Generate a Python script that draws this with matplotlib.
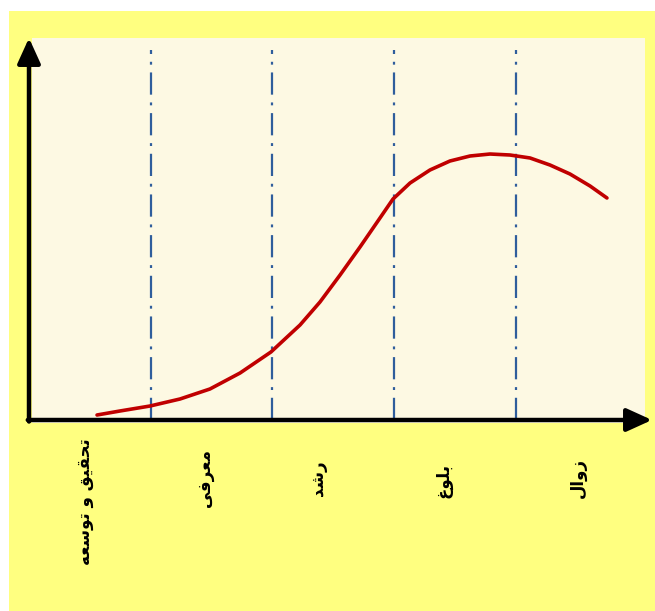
import matplotlib
matplotlib.use("Agg")
import matplotlib.pyplot as plt
from matplotlib.patches import Rectangle

# ---- data ----
stage_labels = ["تحقیق و توسعه", "معرفی", "رشد", "بلوغ", "زوال"]
stage_boundaries = [1.0, 2.0, 3.0, 4.0]
curve_x = [0.559, 0.748, 0.994, 1.241, 1.487, 1.734, 1.988, 2.227, 2.391, 2.556, 2.720,
           2.884, 2.991, 3.131, 3.295, 3.459, 3.624, 3.788, 3.952, 4.117, 4.281, 4.445,
           4.610, 4.749]
curve_y = [1.31, 2.36, 3.66, 5.50, 8.12, 12.30, 17.80, 24.87, 30.89, 37.96, 45.29,
           52.88, 57.85, 62.04, 65.45, 67.80, 69.11, 69.63, 69.37, 68.59, 66.75, 64.40,
           61.26, 58.12]

W, H = 655, 611

# minimal Arabic/Persian shaping for display (letters: iso, fin, ini, med)
FORMS = {
    'ا': ('\uFE8D', '\uFE8E', None, None),
    'ب': ('\uFE8F', '\uFE90', '\uFE91', '\uFE92'),
    'ت': ('\uFE95', '\uFE96', '\uFE97', '\uFE98'),
    'ح': ('\uFEA1', '\uFEA2', '\uFEA3', '\uFEA4'),
    'د': ('\uFEA9', '\uFEAA', None, None),
    'ر': ('\uFEAD', '\uFEAE', None, None),
    'ز': ('\uFEAF', '\uFEB0', None, None),
    'س': ('\uFEB1', '\uFEB2', '\uFEB3', '\uFEB4'),
    'ش': ('\uFEB5', '\uFEB6', '\uFEB7', '\uFEB8'),
    'ع': ('\uFEC9', '\uFECA', '\uFECB', '\uFECC'),
    'غ': ('\uFECD', '\uFECE', '\uFECF', '\uFED0'),
    'ف': ('\uFED1', '\uFED2', '\uFED3', '\uFED4'),
    'ق': ('\uFED5', '\uFED6', '\uFED7', '\uFED8'),
    'ل': ('\uFEDD', '\uFEDE', '\uFEDF', '\uFEE0'),
    'م': ('\uFEE1', '\uFEE2', '\uFEE3', '\uFEE4'),
    'ه': ('\uFEE9', '\uFEEA', '\uFEEB', '\uFEEC'),
    'و': ('\uFEED', '\uFEEE', None, None),
    'ی': ('\uFBFC', '\uFBFD', '\uFBFE', '\uFBFF'),
}


def shape(text):
    out = []
    for i, c in enumerate(text):
        if c not in FORMS:
            out.append(c)
            continue
        prev = text[i - 1] if i > 0 else None
        nxt = text[i + 1] if i + 1 < len(text) else None
        jp = prev in FORMS and FORMS[prev][2] is not None
        jn = nxt in FORMS and FORMS[c][2] is not None
        iso, fin, ini, med = FORMS[c]
        if jp and jn:
            out.append(med)
        elif jp:
            out.append(fin)
        elif jn:
            out.append(ini)
        else:
            out.append(iso)
    return ''.join(reversed(out))


fig = plt.figure(figsize=(W / 100, H / 100), dpi=100)
fig.patch.set_facecolor('white')


def fx(px):
    return px / W


def fy(py):
    return 1 - py / H


# yellow background
fig.patches.append(Rectangle((fx(9), 0), 1 - fx(9), fy(11), transform=fig.transFigure,
                             facecolor='#FFFF80', edgecolor='none', zorder=0))
# cream panel
fig.patches.append(Rectangle((fx(32), fy(423)), fx(645) - fx(32), fy(38) - fy(423),
                             transform=fig.transFigure, facecolor='#FDF9E3',
                             edgecolor='none', zorder=0.5))

x0, x1 = 29, 652
y0, y1 = 420, 38
ax = fig.add_axes([fx(x0), fy(y0), fx(x1) - fx(x0), fy(y1) - fy(y0)])
ax.set_zorder(5)
ax.set_facecolor('none')
ax.set_xlim(0, (x1 - x0) / 121.7)
ax.set_ylim(0, 100)
ax.axis('off')

for b in stage_boundaries:
    ax.plot([b, b], [0, 96.9], color='#2F5E9C', lw=1.6,
            linestyle=(0, (10.0, 3.5, 1.3, 3.5)), zorder=2)

ax.plot(curve_x, curve_y, color='#C00000', lw=2.6, solid_capstyle='round',
        solid_joinstyle='round', zorder=3)

xmax = ax.get_xlim()[1]
arrow_kw = dict(arrowstyle='-|>,head_length=1.1,head_width=0.5', lw=3.2, color='black',
                shrinkA=0, shrinkB=0, mutation_scale=14)
ax.annotate('', xy=(0, 100), xytext=(0, -0.4), arrowprops=arrow_kw, annotation_clip=False, zorder=4)
ax.annotate('', xy=(xmax, 0), xytext=(-0.01, 0), arrowprops=arrow_kw, annotation_clip=False, zorder=4)

label_px = [(85, 502), (205, 478), (318, 478), (443, 480), (578, 478)]
for lab, (px, py) in zip(stage_labels, label_px):
    fig.text(fx(px), fy(py), shape(lab), rotation=90, ha='center', va='center',
             fontsize=12, fontweight='bold', family=['DejaVu Sans'], color='black', zorder=6)

fig.savefig('out.png', dpi=100, facecolor='white')
